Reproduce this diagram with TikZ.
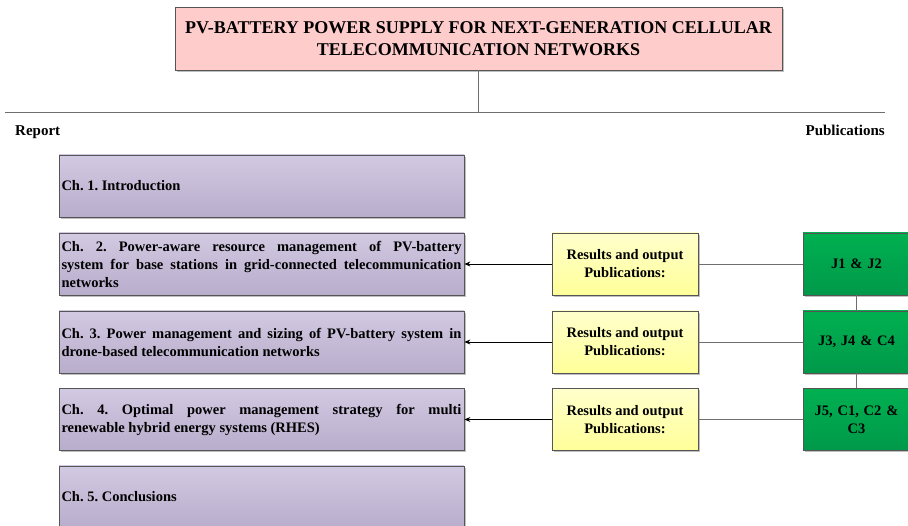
\documentclass[tikz,border=0pt]{standalone}
\usepackage{fontspec}
\setmainfont{Liberation Serif}
\usetikzlibrary{shadows,arrows.meta}
\definecolor{titlefill}{HTML}{FFCCCC}
\definecolor{chtop}{HTML}{D2C9E2}
\definecolor{chbot}{HTML}{B8ADCB}
\definecolor{ytop}{HTML}{FFFFCC}
\definecolor{ybot}{HTML}{FFFF99}
\definecolor{gtop}{HTML}{00B050}
\definecolor{gbot}{HTML}{00994A}
\definecolor{edge}{HTML}{555555}
\definecolor{conn}{HTML}{6E6E6E}
\tikzset{
  shad/.style={drop shadow={shadow xshift=2pt,shadow yshift=-2pt,opacity=0.25,fill=black}},
  titlebox/.style={draw=edge,line width=0.8pt,fill=titlefill,shad,minimum width=607pt,minimum height=63pt,align=center,font=\fontsize{18}{22}\selectfont\bfseries},
  chbox/.style={draw=edge,line width=0.8pt,top color=chtop,bottom color=chbot,shad,minimum width=405pt,minimum height=62pt,text width=400pt,inner xsep=2.5pt,align=justify,font=\frenchspacing\fontsize{14.5}{18}\selectfont\bfseries},
  ybox/.style={draw=edge,line width=0.8pt,top color=ytop,bottom color=ybot,shad,minimum width=146pt,minimum height=62pt,align=center,font=\fontsize{14.5}{18}\selectfont\bfseries},
  gbox/.style={draw=edge,line width=0.8pt,top color=gtop,bottom color=gbot,shad,minimum width=107pt,minimum height=62pt,text width=100pt,align=center,font=\fontsize{14.5}{18}\selectfont\bfseries},
  lbl/.style={font=\fontsize{15}{17}\selectfont\bfseries,inner sep=0pt},
  cline/.style={draw=conn,line width=0.9pt},
  carrow/.style={draw=black,line width=0.8pt,-{Stealth[length=6pt,width=5pt]}}
}
\begin{document}
\begin{tikzpicture}[x=1pt,y=-1pt]
\useasboundingbox (0,0) rectangle (908,526);
\node[titlebox] (title) at (478.5,38.5) {PV-BATTERY POWER SUPPLY FOR NEXT-GENERATION CELLULAR\\TELECOMMUNICATION NETWORKS};
\coordinate (tj) at (478.5,112);
\coordinate (hl) at (5,112);
\coordinate (hr) at (885,112);
\draw[cline] (title.south) -- (tj);
\draw[cline] (hl) -- (hr);
\node[lbl,anchor=base west] (report) at (15,136) {Report};
\node[lbl,anchor=base east] (pubs) at (885,136) {Publications};

\node[chbox] (c1) at (261.5,186) {Ch. 1. Introduction};
\node[chbox] (c2) at (261.5,264) {Ch. 2. Power-aware resource management of PV-battery\linebreak system for base stations in grid-connected telecommunication\linebreak networks};
\node[chbox] (c3) at (261.5,342) {Ch. 3. Power management and sizing of PV-battery system in\linebreak drone-based telecommunication networks};
\node[chbox] (c4) at (261.5,419.5) {Ch. 4. Optimal power management strategy for multi\linebreak renewable hybrid energy systems (RHES)};
\node[chbox] (c5) at (261.5,497) {Ch. 5. Conclusions};

\node[ybox] (y2) at (625,264) {Results and output\\Publications:};
\node[ybox] (y3) at (625,342) {Results and output\\Publications:};
\node[ybox] (y4) at (625,419.5) {Results and output\\Publications:};

\node[gbox] (g2) at (856.5,264) {J1 \& J2};
\node[gbox] (g3) at (856.5,342) {J3, J4 \& C4};
\node[gbox] (g4) at (856.5,419.5) {J5, C1, C2 \&\\C3};

\foreach \i in {2,3,4}{
  \draw[cline] (g\i.west) -- (y\i.east);
  \draw[carrow] (y\i.west) -- (c\i.east);
}
\draw[cline] (g2.south) -- (g3.north);
\draw[cline] (g3.south) -- (g4.north);
\end{tikzpicture}
\end{document}
